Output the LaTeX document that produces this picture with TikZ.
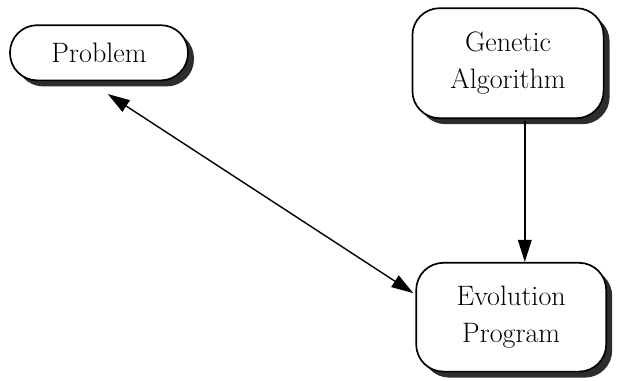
\documentclass[tikz,border=0pt]{standalone}
\usepackage{tikz}
\usetikzlibrary{arrows.meta, positioning, shadows, calc}
\usepackage{xcolor}
\definecolor{minhasombra}{RGB}{45, 45, 45}

\begin{document}
\begin{tikzpicture}[
    every node/.style={font=\fontsize{20}{26}\selectfont},
    caixa/.style={
        draw=black,
        line width=1.2pt,
        fill=white,
        rounded corners=0.68cm,
        align=center,
        inner sep=0pt,
        drop shadow={shadow xshift=0.15cm, shadow yshift=-0.15cm, fill=minhasombra, opacity=1}
    },
    seta/.style={
        line width=1pt,
        -{Triangle[length=0.55cm, width=0.34cm]}
    }
]

\useasboundingbox (0,0) rectangle (15.8,-9.5);

% ------------------------------------------------
% Caixas
% ------------------------------------------------

\node[
    caixa,
    minimum width=4.45cm,
    minimum height=1.38cm
] (problem) at (2.475,-1.32)
{Problem};

\node[
    caixa,
    minimum width=4.78cm,
    minimum height=2.75cm
] (genetic) at (12.7,-1.58)
{Genetic\\Algorithm};

\node[
    caixa,
    minimum width=4.75cm,
    minimum height=2.72cm
] (evolution) at (12.78,-7.93)
{Evolution\\Program};

% ------------------------------------------------
% Setas
% ------------------------------------------------

\coordinate (pontaP) at ($(problem.south)+(0.22,-0.32)$);
\coordinate (pontaE) at ($(evolution.west)+(-0.05,0.6)$);
\coordinate (saidaG) at ($(genetic.south)+(0.42,-0.05)$);

\draw[seta, {Triangle[length=0.55cm, width=0.34cm]}-{Triangle[length=0.55cm, width=0.34cm]}] (pontaP) -- (pontaE);

\draw[seta] (saidaG) -- (saidaG |- evolution.north);

\end{tikzpicture}
\end{document}
